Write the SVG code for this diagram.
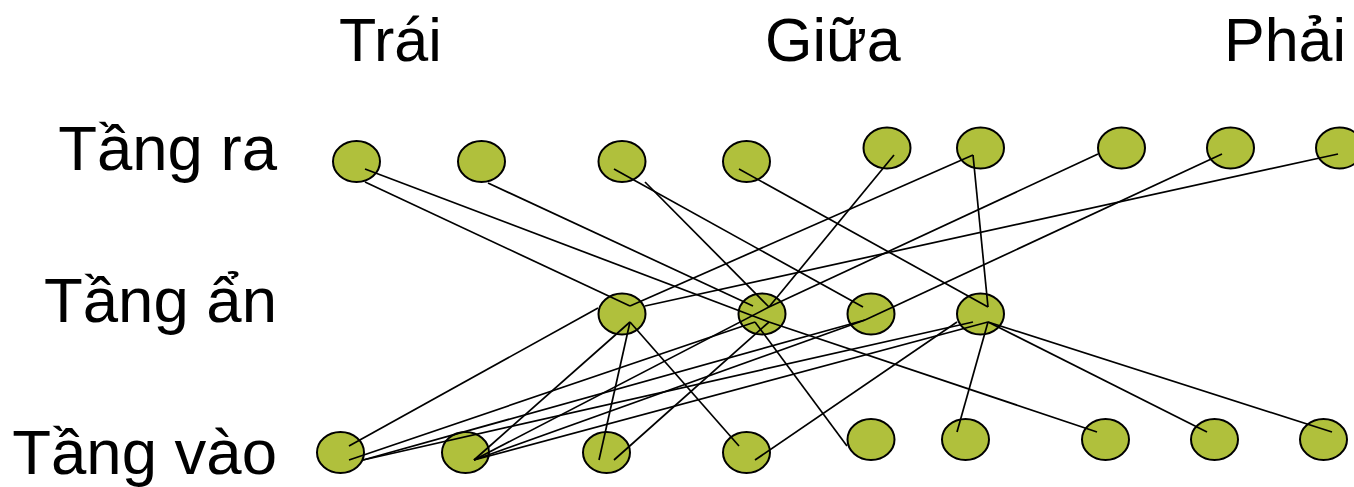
<svg xmlns="http://www.w3.org/2000/svg" width="1354" height="487" viewBox="0 0 1354 487">
  <style>
    .node { fill: #B0C03C; stroke: #000; stroke-width: 2; }
    .edge { stroke: #000; stroke-width: 1.7; fill: none; stroke-linecap: butt; }
    .label { font-family: "Liberation Sans", Arial, sans-serif; fill: #000; }
  </style>
  <rect width="1354" height="487" fill="#fff"/>

  <!-- column headings -->
  <g id="headings" class="label" font-size="61">
    <text x="339" y="61">Trái</text>
    <text x="765" y="61">Giữa</text>
    <text x="1224" y="61">Phải</text>
  </g>

  <!-- layer names -->
  <g id="layer-names" class="label" font-size="63.5" text-anchor="end">
    <text x="277" y="170">Tầng ra</text>
    <text x="277" y="322">Tầng ẩn</text>
    <text x="277" y="474">Tầng vào</text>
  </g>

  <!-- output layer -->
  <g id="out1"><ellipse class="node" cx="356.5" cy="161.5" rx="23.5" ry="20.5"/></g>
  <g id="out2"><ellipse class="node" cx="481.5" cy="161.5" rx="23.5" ry="20.5"/></g>
  <g id="out3"><ellipse class="node" cx="622" cy="161.5" rx="23.5" ry="20.5"/></g>
  <g id="out4"><ellipse class="node" cx="746.5" cy="161.5" rx="23.5" ry="20.5"/></g>
  <g id="out5"><ellipse class="node" cx="887" cy="148" rx="23.5" ry="20.5"/></g>
  <g id="out6"><ellipse class="node" cx="980.5" cy="148" rx="23.5" ry="20.5"/></g>
  <g id="out7"><ellipse class="node" cx="1121.5" cy="148" rx="23.5" ry="20.5"/></g>
  <g id="out8"><ellipse class="node" cx="1230.5" cy="148" rx="23.5" ry="20.5"/></g>
  <g id="out9"><ellipse class="node" cx="1339.5" cy="148" rx="23.5" ry="20.5"/></g>

  <!-- hidden layer -->
  <g id="hid1"><ellipse class="node" cx="622" cy="314" rx="23.5" ry="20.5"/></g>
  <g id="hid2"><ellipse class="node" cx="762" cy="314" rx="23.5" ry="20.5"/></g>
  <g id="hid3"><ellipse class="node" cx="871" cy="314" rx="23.5" ry="20.5"/></g>
  <g id="hid4"><ellipse class="node" cx="980.5" cy="314" rx="23.5" ry="20.5"/></g>

  <!-- input layer -->
  <g id="in1"><ellipse class="node" cx="340.5" cy="452.5" rx="23.5" ry="20.5"/></g>
  <g id="in2"><ellipse class="node" cx="465.5" cy="452.5" rx="23.5" ry="20.5"/></g>
  <g id="in3"><ellipse class="node" cx="606.5" cy="452.5" rx="23.5" ry="20.5"/></g>
  <g id="in4"><ellipse class="node" cx="746.5" cy="452.5" rx="23.5" ry="20.5"/></g>
  <g id="in5"><ellipse class="node" cx="871" cy="439.5" rx="23.5" ry="20.5"/></g>
  <g id="in6"><ellipse class="node" cx="965.5" cy="439.5" rx="23.5" ry="20.5"/></g>
  <g id="in7"><ellipse class="node" cx="1105.5" cy="439.5" rx="23.5" ry="20.5"/></g>
  <g id="in8"><ellipse class="node" cx="1214.5" cy="439.5" rx="23.5" ry="20.5"/></g>
  <g id="in9"><ellipse class="node" cx="1323.5" cy="439.5" rx="23.5" ry="20.5"/></g>

  <!-- connections -->
  <g id="connectors" class="edge">
    <!-- output to hidden -->
    <line x1="365" y1="169" x2="769" y2="322"/>
    <line x1="365" y1="182" x2="630" y2="306"/>
    <line x1="488" y1="183" x2="753" y2="306"/>
    <line x1="614" y1="169" x2="863" y2="307"/>
    <line x1="645" y1="182" x2="769" y2="307"/>
    <line x1="739" y1="169" x2="988" y2="307"/>
    <line x1="894" y1="155" x2="769" y2="307"/>
    <line x1="973" y1="155" x2="630" y2="306"/>
    <line x1="973" y1="155" x2="988" y2="307"/>
    <line x1="1098" y1="154" x2="769" y2="307"/>
    <line x1="1222" y1="154" x2="865" y2="320"/>
    <line x1="1338" y1="154" x2="645" y2="306"/>
    <!-- input to hidden -->
    <line x1="349" y1="446" x2="598" y2="308"/>
    <line x1="349" y1="460" x2="755" y2="322"/>
    <line x1="363" y1="460" x2="865" y2="320"/>
    <line x1="363" y1="460" x2="973" y2="322"/>
    <line x1="474" y1="460" x2="630" y2="322"/>
    <line x1="474" y1="460" x2="769" y2="307"/>
    <line x1="474" y1="460" x2="865" y2="320"/>
    <line x1="474" y1="460" x2="988" y2="322"/>
    <line x1="599" y1="460" x2="630" y2="322"/>
    <line x1="614" y1="460" x2="769" y2="322"/>
    <line x1="739" y1="446" x2="630" y2="322"/>
    <line x1="755" y1="460" x2="957" y2="322"/>
    <line x1="847" y1="446" x2="755" y2="322"/>
    <line x1="957" y1="432" x2="988" y2="322"/>
    <line x1="1097" y1="432" x2="769" y2="322"/>
    <line x1="1207" y1="432" x2="988" y2="322"/>
    <line x1="1332" y1="432" x2="988" y2="322"/>
  </g>
</svg>
